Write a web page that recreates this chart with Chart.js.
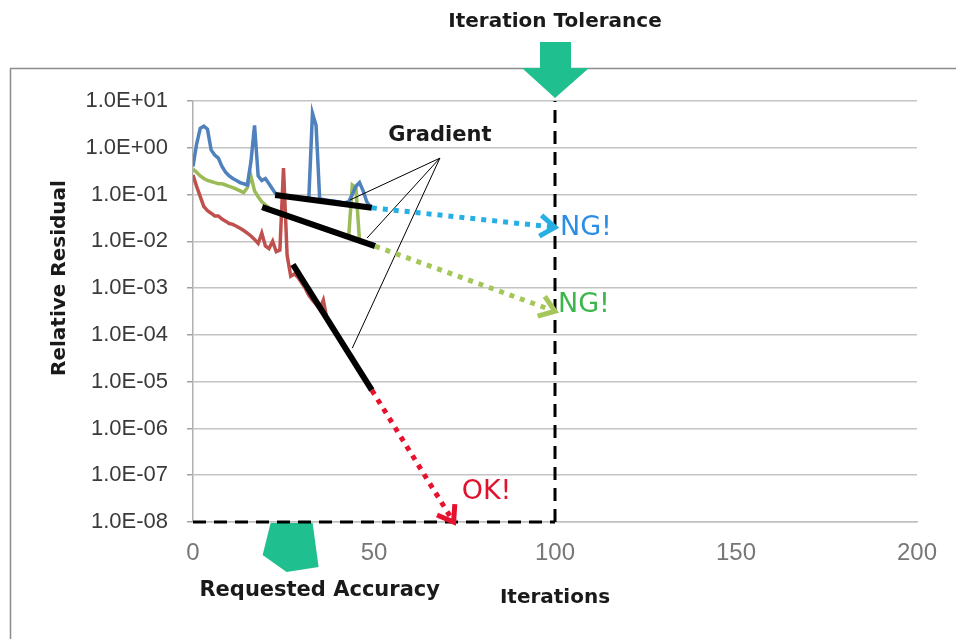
<!DOCTYPE html>
<html><head><meta charset="utf-8">
<script src="https://cdn.jsdelivr.net/npm/chart.js@4.4.1/dist/chart.umd.min.js"></script>
<style>html,body{margin:0;padding:0;background:#fff;overflow:hidden}</style>
</head><body>
<canvas id="c" width="956" height="639"></canvas>
<script>
// ---------- data ----------
const xTicks = [0, 50, 100, 150, 200];
const yTickValues = [1e1, 1e0, 1e-1, 1e-2, 1e-3, 1e-4, 1e-5, 1e-6, 1e-7, 1e-8];
const yTickLabels = ['1.0E+01','1.0E+00','1.0E-01','1.0E-02','1.0E-03','1.0E-04','1.0E-05','1.0E-06','1.0E-07','1.0E-08'];

// residual per iteration (index = iteration number)
const blueResidual = [0.4,1.2,2.6,2.9,2.5,0.9,0.7,0.6,0.4,0.3,0.25,0.22,0.2,0.18,0.17,0.16,0.5,3.0,0.25,0.2,0.22,0.17,0.13,0.1,0.1,0.095,0.09,0.09,0.088,0.086,0.085,0.084,0.085,5.5,3.0,0.08,0.078,0.076,0.074,0.072,0.07,0.068,0.067,0.07,0.1,0.15,0.18,0.12,0.07,0.055];
const greenResidual = [0.35,0.3,0.25,0.22,0.2,0.19,0.18,0.17,0.17,0.16,0.15,0.14,0.13,0.12,0.11,0.14,0.25,0.12,0.09,0.07,0.06,0.052,0.046,0.043,0.04,0.038,0.036,0.033,0.031,0.029,0.028,0.026,0.0245,0.023,0.0215,0.02,0.019,0.018,0.017,0.016,0.015,0.014,0.0132,0.0124,0.16,0.14,0.0103,0.0097,0.0091,0.0086,0.0081];
const redResidual = [0.26,0.15,0.09,0.055,0.045,0.04,0.035,0.035,0.03,0.027,0.024,0.023,0.021,0.019,0.017,0.015,0.013,0.011,0.009,0.015,0.008,0.007,0.01,0.006,0.0065,0.37,0.005,0.0018,0.002,0.0017,0.0013,0.001,0.0007,0.00055,0.00045,0.00035,0.00055,0.00022,0.00017,0.00013,0.000094,0.000071,0.000053,0.00004,0.00003,0.000023,0.000017,0.000013,0.0000097,0.0000073];

// gradient (black) segments: [iteration, residual]
const gradientBlue  = [[22.7, 0.098], [49.4, 0.052]];
const gradientGreen = [[19.1, 0.054], [50.3, 0.0079]];
const gradientRed   = [[27.6, 0.0032], [49.4, 6.6e-6]];
// extrapolations (dotted arrows)
const extrapBlue  = [[49.4, 0.052], [100, 0.02]];
const extrapGreen = [[50.3, 0.0079], [100, 3.2e-4]];
const extrapRed   = [[49.4, 6.6e-6], [72, 1e-8]];
// limits
const iterationTolerance = 100;
const requestedAccuracy = 1e-8;
const residualTop = 10;
// "Gradient" label pointer
const gradientLabelAt = [68.2, 0.6];
const gradientTargets = [[43.4, 0.0767], [48.1, 0.0118], [44, 5.2e-5]];

// ---------- helpers ----------
const seriesPts = arr => arr.map((v, i) => ({x: i, y: v}));
const pairPts = arr => arr.map(p => ({x: p[0], y: p[1]}));
const ds = (data, color, width, order, extra) => Object.assign({
  data, borderColor: color, backgroundColor: color, borderWidth: width,
  pointRadius: 0, pointHoverRadius: 0, fill: false, tension: 0, order
}, extra || {});

const datasets = [
  ds(pairPts([[iterationTolerance, requestedAccuracy], [iterationTolerance, residualTop]]), '#000', 3, 1, {borderDash: [13, 8], clip: false}),
  ds(pairPts([[0, requestedAccuracy], [iterationTolerance, requestedAccuracy]]), '#000', 3, 1, {borderDash: [13, 8], clip: false}),
  ds(pairPts(extrapBlue), '#27aee3', 5, 2, {borderDash: [5, 6], arrow: true, clip: false}),
  ds(pairPts(extrapGreen), '#a5c75a', 5, 2, {borderDash: [5, 6], arrow: true, clip: false}),
  ds(pairPts(extrapRed), '#e8112d', 5, 2, {borderDash: [5, 6], arrow: true, clip: false}),
  ...gradientTargets.map(t => ds(pairPts([gradientLabelAt, t]), '#000', 1, 3)),
  ds(pairPts(gradientBlue), '#000', 6, 4),
  ds(pairPts(gradientGreen), '#000', 6, 4),
  ds(pairPts(gradientRed), '#000', 6, 4),
  ds(seriesPts(blueResidual), '#4f81bd', 3.5, 5),
  ds(seriesPts(greenResidual), '#9bbb59', 3.5, 6),
  ds(seriesPts(redResidual), '#c0504d', 3.5, 7)
];

function arrowHead(ctx, x1, y1, x2, y2, color, len, width) {
  const a = Math.atan2(y2 - y1, x2 - x1);
  ctx.save();
  ctx.strokeStyle = color; ctx.lineWidth = width; ctx.lineCap = 'butt'; ctx.lineJoin = 'miter';
  ctx.beginPath();
  ctx.moveTo(x2 - len * Math.cos(a - 0.62), y2 - len * Math.sin(a - 0.62));
  ctx.lineTo(x2, y2);
  ctx.lineTo(x2 - len * Math.cos(a + 0.62), y2 - len * Math.sin(a + 0.62));
  ctx.stroke();
  ctx.restore();
}

const decor = {
  id: 'decor',
  beforeDraw(chart) {
    const c = chart.ctx;
    c.save();
    c.fillStyle = '#fff'; c.fillRect(0, 0, chart.width, chart.height);
    c.strokeStyle = '#8c8c8c'; c.lineWidth = 1.5;
    c.strokeRect(10.5, 68.5, chart.width + 40, chart.height + 40);
    c.restore();
  },
  beforeDatasetsDraw(chart) {
    // "Requested Accuracy" arrow below the accuracy line
    const c = chart.ctx, xs = chart.scales.x, ys = chart.scales.y;
    const bx = xs.getPixelForValue(30), by = ys.getPixelForValue(requestedAccuracy);
    c.save();
    c.fillStyle = '#1fbf8f';
    c.beginPath();
    c.moveTo(bx - 31, by + 1); c.lineTo(bx + 11, by + 1); c.lineTo(bx + 17, by + 45);
    c.lineTo(bx - 15, by + 50); c.lineTo(bx - 39, by + 33);
    c.closePath(); c.fill();
    c.restore();
  },
  afterDatasetsDraw(chart) {
    const c = chart.ctx;
    chart.data.datasets.forEach((d, i) => {
      if (!d.arrow) return;
      const pts = chart.getDatasetMeta(i).data;
      const p1 = pts[pts.length - 2], p2 = pts[pts.length - 1];
      arrowHead(c, p1.x, p1.y, p2.x, p2.y, d.borderColor, 18, 5);
    });
  },
  afterDraw(chart) {
    const c = chart.ctx, xs = chart.scales.x, ys = chart.scales.y, ca = chart.chartArea;
    c.save();
    // iteration tolerance arrow
    const cx = xs.getPixelForValue(iterationTolerance), tip = ca.top - 3;
    c.fillStyle = '#1fbf8f';
    c.beginPath();
    c.moveTo(cx - 15, 42); c.lineTo(cx + 16, 42); c.lineTo(cx + 16, 68); c.lineTo(cx + 34, 68);
    c.lineTo(cx, tip); c.lineTo(cx - 33, 68); c.lineTo(cx - 15, 68); c.closePath(); c.fill();

    c.fillStyle = '#1a1a1a';
    c.textAlign = 'center'; c.textBaseline = 'middle';
    c.font = 'bold 20px "DejaVu Sans"';
    c.fillText('Iteration Tolerance', cx, 22);
    c.fillText('Iterations', (ca.left + ca.right) / 2, 598);
    c.font = 'bold 21px "DejaVu Sans"';
    c.fillText('Requested Accuracy', xs.getPixelForValue(35), 591);
    c.fillText('Gradient', xs.getPixelForValue(gradientLabelAt[0]), ys.getPixelForValue(gradientLabelAt[1]) - 23);
    c.save();
    c.font = 'bold 20px "DejaVu Sans"';
    c.translate(60, 278); c.rotate(-Math.PI / 2);
    c.fillText('Relative Residual', 0, 0);
    c.restore();

    c.textAlign = 'left';
    c.font = '27px "DejaVu Sans"';
    c.fillStyle = '#2b8de4';
    c.fillText('NG!', cx + 5, ys.getPixelForValue(extrapBlue[1][1]) + 1);
    c.fillStyle = '#3db64c';
    c.fillText('NG!', cx + 3, ys.getPixelForValue(extrapGreen[1][1]) - 6);
    c.fillStyle = '#e0132e';
    c.fillText('OK!', xs.getPixelForValue(extrapRed[1][0]) + 8, ys.getPixelForValue(extrapRed[1][1]) - 30);
    c.restore();
  }
};

new Chart(document.getElementById('c'), {
  type: 'line',
  data: {datasets},
  plugins: [decor],
  options: {
    responsive: false, animation: false,
    layout: {padding: {left: 0, top: 101, right: 39, bottom: 57}},
    plugins: {legend: {display: false}, tooltip: {enabled: false}},
    scales: {
      x: {
        type: 'linear', min: xTicks[0], max: xTicks[xTicks.length - 1],
        afterFit: s => { s.height = 60; },
        afterBuildTicks: s => { s.ticks = xTicks.map(v => ({value: v})); },
        grid: {display: false, drawTicks: false},
        border: {display: true, color: '#bfbfbf', width: 1.5},
        ticks: {padding: 17, color: '#777', font: {family: '"Liberation Sans Narrow", "Liberation Sans"', size: 24}, maxRotation: 0}
      },
      y: {
        type: 'logarithmic', min: yTickValues[yTickValues.length - 1], max: yTickValues[0],
        afterFit: s => { s.width = 193; },
        afterBuildTicks: s => { s.ticks = yTickValues.map(v => ({value: v})); },
        grid: {color: '#c4c4c4', lineWidth: 1.5, drawTicks: true, tickLength: 6, tickColor: '#a0a0a0'},
        border: {display: true, color: '#b0b0b0', width: 1.5},
        ticks: {
          padding: 19, autoSkip: false, color: '#3a3a3a',
          font: {family: '"Liberation Sans"', size: 22},
          callback: v => {
            const i = yTickValues.findIndex(t => Math.abs(Math.log10(t) - Math.log10(v)) < 1e-6);
            return i >= 0 ? yTickLabels[i] : '';
          }
        }
      }
    }
  }
});
</script>
</body></html>
